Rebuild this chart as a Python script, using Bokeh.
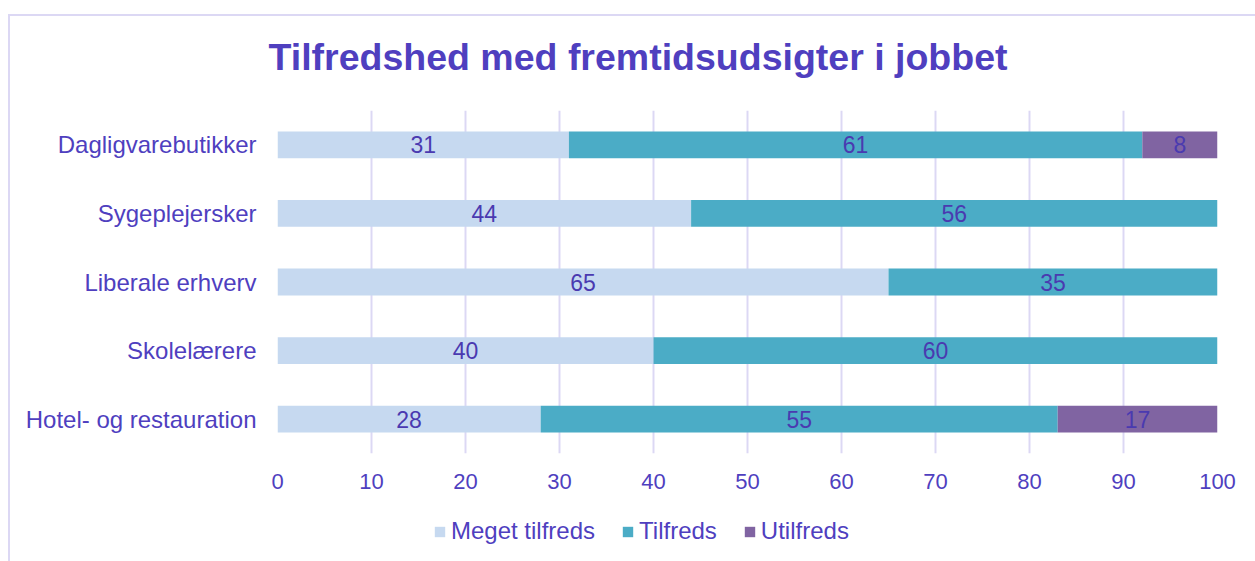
from bokeh.plotting import figure
from bokeh.models import ColumnDataSource, FactorRange, Legend, LegendItem, FixedTicker, Title
from bokeh.layouts import column
from bokeh.core.properties import value
from bokeh.embed import file_html
from bokeh.resources import INLINE

categories = ["Dagligvarebutikker", "Sygeplejersker", "Liberale erhverv", "Skolelærere", "Hotel- og restauration"]
meget_tilfreds = [31, 44, 65, 40, 28]
tilfreds = [61, 56, 35, 60, 55]
utilfreds = [8, 0, 0, 0, 17]
series_names = ["Meget tilfreds", "Tilfreds", "Utilfreds"]
colors = ["#c6d9f0", "#4bacc6", "#8064a2"]
x_ticks = [0, 10, 20, 30, 40, 50, 60, 70, 80, 90, 100]

FONT = "Liberation Sans"
TXT = "#4f3fbf"
GRID = "#dcd8f4"
W = 1245

source = ColumnDataSource(dict(cat=categories, s0=meget_tilfreds, s1=tilfreds, s2=utilfreds))

# title strip
t = figure(width=W, height=94, output_backend="svg", toolbar_location=None,
           x_axis_type=None, y_axis_type=None, min_border=0, x_range=(0, 1), y_range=(0, 1))
t.outline_line_color = None
t.title = Title(text="Tilfredshed med fremtidsudsigter i jobbet", align="left", offset=-9, standoff=34,
                text_font=FONT, text_font_size="37.5px", text_font_style="bold", text_color=TXT)

# main chart
p = figure(width=W, height=393, y_range=FactorRange(*reversed(categories)),
           x_range=(0, 100), output_backend="svg", toolbar_location=None,
           min_border_left=267, min_border_right=38, min_border_top=0, min_border_bottom=50)
p.outline_line_color = None

renderers = p.hbar_stack(["s0", "s1", "s2"], y="cat", height=0.39, color=colors, source=source, line_color=None)

lx, ly, lt = [], [], []
for i, c in enumerate(categories):
    vals = [meget_tilfreds[i], tilfreds[i], utilfreds[i]]
    start = 0
    for v in vals:
        if v > 0:
            lx.append(start + v / 2)
            ly.append(c)
            lt.append(str(v))
        start += v
p.text(x=lx, y=ly, text=lt, text_align="center", text_baseline="middle",
       text_font=value(FONT), text_font_size="23px", text_color="#4a3ab0")

p.xaxis.ticker = FixedTicker(ticks=x_ticks)
p.xaxis.axis_line_color = None
p.xaxis.major_tick_line_color = None
p.xaxis.minor_tick_line_color = None
p.xaxis.major_label_text_font = FONT
p.xaxis.major_label_text_font_size = "22px"
p.xaxis.major_label_text_color = TXT
p.xaxis.major_label_standoff = 14

p.yaxis.axis_line_color = None
p.yaxis.major_tick_line_color = None
p.yaxis.major_label_text_font = FONT
p.yaxis.major_label_text_font_size = "24px"
p.yaxis.major_label_text_color = TXT
p.yaxis.major_label_standoff = 15

p.ygrid.grid_line_color = None
p.xgrid.ticker = FixedTicker(ticks=x_ticks)
p.xgrid.grid_line_color = GRID
p.xgrid.grid_line_width = 2

# legend strip: zero-height copies of the stacked bars, so only the legend swatches show
q = figure(width=W, height=58, output_backend="svg", toolbar_location=None,
           x_axis_type=None, y_axis_type=None, min_border=0,
           x_range=(200, 300), y_range=FactorRange(*reversed(categories)))
q.outline_line_color = None
lrs = q.hbar_stack(["s0", "s1", "s2"], y="cat", height=0, color=colors, source=source, line_color=None)
items = [LegendItem(label=n, renderers=[r]) for n, r in zip(series_names, lrs)]
legend = Legend(items=items, orientation="horizontal", location=(156, 16),
                glyph_width=13, glyph_height=13, label_standoff=5, spacing=26,
                padding=0, margin=0, border_line_color=None, background_fill_alpha=0,
                label_text_font=FONT, label_text_font_size="24px", label_text_color=TXT)
q.add_layout(legend, "center")

layout = column(t, p, q, spacing=0, margin=(14, 0, 0, 8),
                styles={"border-left": f"2px solid {GRID}", "border-top": f"2px solid {GRID}"})

open("out.html", "w").write(file_html(layout, INLINE))
